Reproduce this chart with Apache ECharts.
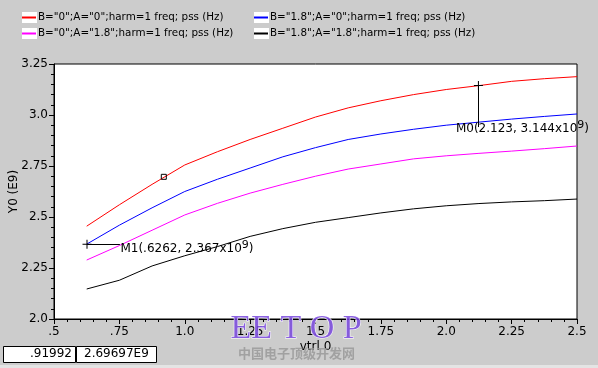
<!DOCTYPE html>
<html><head><meta charset="utf-8">
<script src="https://cdn.jsdelivr.net/npm/echarts@6/dist/echarts.min.js"></script>
<style>html,body{margin:0;padding:0;background:#cccccc;}#c{width:598px;height:368px;}</style>
</head><body><div id="c"></div>
<script>
const xVals = [0.625,0.75,0.875,1.0,1.125,1.25,1.375,1.5,1.625,1.75,1.875,2.0,2.125,2.25,2.375,2.5];
const redY     = [2.455,2.56,2.66,2.755,2.82,2.88,2.935,2.99,3.035,3.07,3.10,3.125,3.144,3.165,3.178,3.188];
const blueY    = [2.367,2.46,2.545,2.625,2.685,2.74,2.795,2.84,2.88,2.907,2.93,2.95,2.965,2.98,2.993,3.005];
const magentaY = [2.289,2.36,2.435,2.51,2.567,2.617,2.66,2.70,2.735,2.76,2.785,2.80,2.812,2.823,2.835,2.848];
const blackY   = [2.147,2.19,2.26,2.31,2.355,2.405,2.443,2.474,2.497,2.52,2.54,2.555,2.566,2.574,2.58,2.588];
const seriesNames = ['B="0";A="0";harm=1 freq; pss (Hz)','B="1.8";A="0";harm=1 freq; pss (Hz)','B="0";A="1.8";harm=1 freq; pss (Hz)','B="1.8";A="1.8";harm=1 freq; pss (Hz)'];
const xTickLabels = ['.5','.75','1.0','1.25','1.5','1.75','2.0','2.25','2.5'];
const yTickLabels = ['2.0','2.25','2.5','2.75','3.0','3.25'];
const m0 = [2.123, 3.144];
const m1 = [0.6262, 2.367];
const cursor = [0.91992, 2.69697];
const readX = '.91992', readY = '2.69697E9';

const FONT = 'DejaVu Sans';
const plus = 'path://M4,0h1v4h4v1h-4v4h-1v-4h-4v-1h4z';
function pts(ys){ return xVals.map((x,i)=>[x,ys[i]]); }
const chart = echarts.init(document.getElementById('c'));
const lineBase = {type:'line', showSymbol:false, symbol:'none', lineStyle:{width:1}, animation:false, clip:false};
const legBase = {top:11, orient:'vertical', padding:0, itemGap:3, itemWidth:14, itemHeight:2, icon:'rect', selectedMode:false,
  textStyle:{fontFamily:FONT, fontSize:10.35, lineHeight:13, color:'#000', padding:[0,0,0,-3]}};
chart.setOption({
  backgroundColor:'#cccccc',
  textStyle:{fontFamily:FONT},
  grid:{left:54, right:21, top:64, bottom:49, containLabel:false, outerBoundsMode:'none', show:true, backgroundColor:'#ffffff', borderColor:'#000', borderWidth:1},
  legend:[
    Object.assign({}, legBase, {left:22, data:[seriesNames[0], seriesNames[2]]}),
    Object.assign({}, legBase, {left:254, data:[seriesNames[1], seriesNames[3]]})
  ],
  xAxis:{type:'value', min:0.5, max:2.5, interval:0.25, name:'vtrl 0', nameLocation:'middle', nameGap:22, nameMoveOverlap:false,
    nameTextStyle:{fontFamily:FONT, fontSize:12, color:'#000'},
    axisLine:{lineStyle:{color:'#000'}}, axisTick:{length:5, lineStyle:{color:'#000'}},
    minorTick:{show:true, splitNumber:5, length:3, lineStyle:{color:'#000'}},
    splitLine:{show:false},
    axisLabel:{color:'#000', fontFamily:FONT, fontSize:12, margin:7,
      formatter:v=>xTickLabels[Math.round((v-0.5)/0.25)]}},
  yAxis:{type:'value', min:2.0, max:3.25, interval:0.25, name:'Y0 (E9)', nameLocation:'middle', nameGap:34, nameMoveOverlap:false,
    nameTextStyle:{fontFamily:FONT, fontSize:12, color:'#000'},
    axisLine:{show:true, lineStyle:{color:'#000'}}, axisTick:{show:true, length:5, lineStyle:{color:'#000'}},
    minorTick:{show:true, splitNumber:5, length:3, lineStyle:{color:'#000'}},
    splitLine:{show:false},
    axisLabel:{color:'#000', fontFamily:FONT, fontSize:12, margin:6,
      formatter:v=>yTickLabels[Math.round((v-2.0)/0.25)]}},
  series:[
    Object.assign({}, lineBase, {name:seriesNames[0], data:pts(redY), color:'#ff0000', z:3,
      markPoint:{symbol:'rect', symbolSize:5, itemStyle:{color:'rgba(0,0,0,0)', borderColor:'#000', borderWidth:1}, label:{show:false},
        data:[{coord:cursor}]}}),
    Object.assign({}, lineBase, {name:seriesNames[1], data:pts(blueY), color:'#0000ff', z:3,
      markLine:{symbol:'none', silent:true, animation:false, lineStyle:{color:'#000', width:1, type:'solid'}, label:{show:false},
        data:[[{coord:m1},{coord:[0.752, m1[1]]}],[{coord:m0},{coord:[m0[0], 2.941]}]]},
      markPoint:{symbol:plus, symbolSize:9, itemStyle:{color:'#000'}, animation:false,
        label:{show:false},
        data:[{coord:m1},{coord:m0}]}}),
    Object.assign({}, lineBase, {name:seriesNames[2], data:pts(magentaY), color:'#ff00ff', z:3}),
    Object.assign({}, lineBase, {name:seriesNames[3], data:pts(blackY), color:'#000000', z:3,
      markPoint:{symbol:'circle', symbolSize:1, itemStyle:{color:'rgba(0,0,0,0)'}, animation:false, z:10,
        label:{show:true, position:'right', distance:0, fontFamily:FONT, fontSize:12, color:'#000',
          rich:{s:{fontSize:11, verticalAlign:'top', padding:[0,0,8,0], fontFamily:FONT, color:'#000'}}},
        data:[
          {coord:[0.752, 2.342], label:{formatter:'M1(.6262, 2.367x10{s|9})'}},
          {coord:[2.035, 2.932], label:{formatter:'M0(2.123, 3.144x10{s|9})'}}
        ]}})
  ],
  graphic:[
    {type:'rect', left:22, top:12, shape:{width:15, height:11}, style:{fill:'#fff'}, z:-1, silent:true},
    {type:'rect', left:22, top:28, shape:{width:15, height:11}, style:{fill:'#fff'}, z:-1, silent:true},
    {type:'rect', left:254, top:12, shape:{width:15, height:11}, style:{fill:'#fff'}, z:-1, silent:true},
    {type:'rect', left:254, top:28, shape:{width:15, height:11}, style:{fill:'#fff'}, z:-1, silent:true},
    {type:'rect', left:3, top:346, shape:{width:72, height:16}, style:{fill:'#fff', stroke:'#000', lineWidth:1}},
    {type:'rect', left:76, top:346, shape:{width:80, height:16}, style:{fill:'#fff', stroke:'#000', lineWidth:1}},
    {type:'text', right:598-72, top:348, style:{text:readX, fontFamily:FONT, fontSize:12, fill:'#000'}},
    {type:'text', left:84, top:348, style:{text:readY, fontFamily:FONT, fontSize:12, fill:'#000'}},
    {type:'rect', left:0, top:365, shape:{width:598, height:3}, style:{fill:'#e4e4e4'}},
    {type:'text', left:230, top:312, z:100, style:{text:'EE T O P', fontFamily:'Liberation Serif', fontSize:34, fill:'rgba(120,70,220,0.85)', stroke:'#ffffff', lineWidth:1}},
    {type:'text', left:238, top:347, z:100, style:{text:'中国电子顶级开发网', fontFamily:'Noto Sans CJK SC', fontSize:13, fontWeight:'bold', fill:'rgba(150,150,150,0.8)'}}
  ]
});
</script></body></html>
